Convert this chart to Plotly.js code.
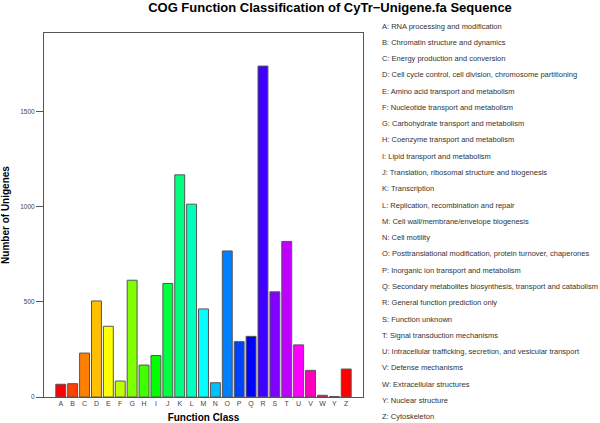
<!DOCTYPE html>
<html>
<head>
<meta charset="utf-8">
<script src="https://cdn.plot.ly/plotly-3.0.1.min.js"></script>
<style>html,body{margin:0;padding:0;background:#fff;}#chart{width:600px;height:423px;}</style>
</head>
<body>
<div id="chart"></div>
<script>
const categories = ["A","B","C","D","E","F","G","H","I","J","K","L","M","N","O","P","Q","R","S","T","U","V","W","Y","Z"];
const counts = [67, 70, 231, 505, 372, 84, 614, 168, 218, 597, 1168, 1014, 463, 75, 768, 291, 319, 1740, 553, 818, 274, 140, 9, 2, 147];
const descriptions = [
  "A: RNA processing and modification",
  "B: Chromatin structure and dynamics",
  "C: Energy production and conversion",
  "D: Cell cycle control, cell division, chromosome partitioning",
  "E: Amino acid transport and metabolism",
  "F: Nucleotide transport and metabolism",
  "G: Carbohydrate transport and metabolism",
  "H: Coenzyme transport and metabolism",
  "I: Lipid transport and metabolism",
  "J: Translation, ribosomal structure and biogenesis",
  "K: Transcription",
  "L: Replication, recombination and repair",
  "M: Cell wall/membrane/envelope biogenesis",
  "N: Cell motility",
  "O: Posttranslational modification, protein turnover, chaperones",
  "P: Inorganic ion transport and metabolism",
  "Q: Secondary metabolites biosynthesis, transport and catabolism",
  "R: General function prediction only",
  "S: Function unknown",
  "T: Signal transduction mechanisms",
  "U: Intracellular trafficking, secretion, and vesicular transport",
  "V: Defense mechanisms",
  "W: Extracellular structures",
  "Y: Nuclear structure",
  "Z: Cytoskeleton"
];
const barColors = ["#FF0000","#FF4000","#FF8000","#FFBF00","#FFFF00","#BFFF00","#80FF00","#40FF00","#00FF00","#00FF40","#00FF80","#00FFBF","#00FFFF","#00BFFF","#0080FF","#0040FF","#0000FF","#4000FF","#8000FF","#BF00FF","#FF00FF","#FF00BF","#FF0080","#FF0040","#FF0000"];

const FONT = "Liberation Sans, Arial, Helvetica, sans-serif";
const plotTop = 33, plotBottom = 397, plotLeft = 44, plotRight = 363;
const plotH = plotBottom - plotTop, plotW = plotRight - plotLeft;
const legendX = (380 - plotLeft) / plotW;
const firstY = 26, stepY = 16.28;

const annotations = descriptions.map((t, i) => ({
  text: t, xref: "paper", yref: "paper",
  x: legendX, y: (plotBottom - (firstY + i * stepY)) / plotH,
  xanchor: "left", yanchor: "middle", showarrow: false,
  font: {family: FONT, size: 7.5, color: "#333"}
}));

const trace = {
  type: "bar", x: categories, y: counts,
  marker: {color: barColors, line: {color: "#555", width: 1}},
  hoverinfo: "x+y"
};

const layout = {
  width: 600, height: 423,
  margin: {l: plotLeft, r: 600 - plotRight, t: plotTop, b: 423 - plotBottom, pad: 0},
  paper_bgcolor: "#fff", plot_bgcolor: "#fff",
  showlegend: false,
  bargap: 0.1667,
  title: {text: "<b>COG Function Classification of CyTr\u2212Unigene.fa Sequence</b>",
    x: 330 / 600, xref: "container", xanchor: "center",
    y: 1 - 7.5 / 423, yref: "container", yanchor: "middle",
    font: {family: FONT, size: 13, color: "#000"}},
  xaxis: {
    type: "category", range: [-1.41, 25.41],
    showline: true, mirror: true, linecolor: "#555", linewidth: 1,
    showgrid: false, zeroline: false, ticks: "",
    tickfont: {family: FONT, size: 7, color: "#444"},
    title: {text: "<b>Function Class</b>", font: {family: FONT, size: 10, color: "#000"}, standoff: 7},
    fixedrange: true
  },
  yaxis: {
    range: [0, 1914], tickvals: [0, 500, 1000, 1500],
    showline: true, mirror: true, linecolor: "#555", linewidth: 1,
    showgrid: false, zeroline: false,
    ticks: "outside", ticklen: 7, tickcolor: "#555", tickwidth: 1,
    tickfont: {family: FONT, size: 6.5, color: "#444"},
    title: {text: "<b>Number of Unigenes</b>", font: {family: FONT, size: 10, color: "#000"}, standoff: 15},
    fixedrange: true
  },
  annotations: annotations
};

Plotly.newPlot("chart", [trace], layout, {displayModeBar: false, staticPlot: true});
</script>
</body>
</html>
